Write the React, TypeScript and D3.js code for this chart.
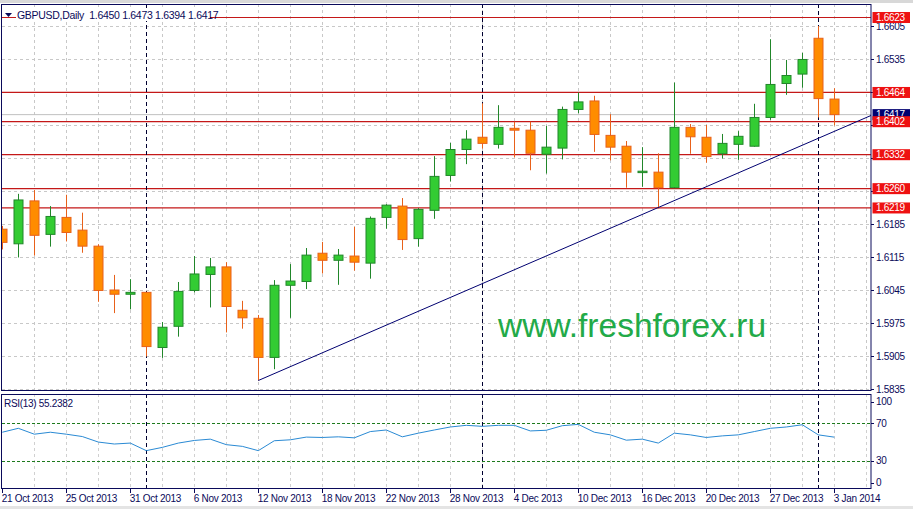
import React from 'react';
import * as d3 from 'd3';

// ---- data ----
const opens = [1.6174, 1.6143, 1.6234, 1.6163, 1.6199, 1.6172, 1.6138, 1.6045, 1.6036, 1.6040,
  1.5923, 1.5968, 1.6044, 1.6078, 1.6094, 1.6002, 1.5985, 1.5902, 1.6055, 1.6063,
  1.6123, 1.6108, 1.6117, 1.6102, 1.6199, 1.6223, 1.6154, 1.6214, 1.6288, 1.6343,
  1.6369, 1.6354, 1.6388, 1.6384, 1.6333, 1.6346, 1.6428, 1.6446, 1.6373, 1.6350,
  1.6294, 1.6295, 1.6262, 1.6390, 1.6369, 1.6334, 1.6354, 1.6350, 1.6411, 1.6483,
  1.6503, 1.6579, 1.6450];
const highs = [1.6181, 1.6249, 1.6257, 1.6223, 1.6247, 1.6209, 1.6142, 1.6077, 1.6068, 1.6041,
  1.5977, 1.6062, 1.6117, 1.6113, 1.6104, 1.6022, 1.5992, 1.6066, 1.6100, 1.6134,
  1.6147, 1.6132, 1.6179, 1.6201, 1.6227, 1.6240, 1.6219, 1.6329, 1.6357, 1.6384,
  1.6441, 1.6437, 1.6402, 1.6402, 1.6393, 1.6434, 1.6464, 1.6457, 1.6418, 1.6361,
  1.6348, 1.6335, 1.6485, 1.6397, 1.6395, 1.6376, 1.6382, 1.6440, 1.6577, 1.6533,
  1.6548, 1.6605, 1.6473];
const lows = [1.6131, 1.6114, 1.6118, 1.6137, 1.6148, 1.6124, 1.6020, 1.5996, 1.6004, 1.5904,
  1.5901, 1.5946, 1.6040, 1.6008, 1.5955, 1.5963, 1.5853, 1.5877, 1.5986, 1.6047,
  1.6080, 1.6056, 1.6086, 1.6069, 1.6175, 1.6130, 1.6137, 1.6196, 1.6275, 1.6312,
  1.6345, 1.6345, 1.6326, 1.6299, 1.6292, 1.6322, 1.6420, 1.6338, 1.6320, 1.6262,
  1.6264, 1.6218, 1.6261, 1.6334, 1.6315, 1.6324, 1.6321, 1.6349, 1.6406, 1.6459,
  1.6474, 1.6411, 1.6394];
const closes = [1.6146, 1.6236, 1.6161, 1.6201, 1.6167, 1.6138, 1.6044, 1.6036, 1.6040, 1.5925,
  1.5966, 1.6042, 1.6079, 1.6094, 1.6010, 1.5986, 1.5902, 1.6055, 1.6064, 1.6119,
  1.6108, 1.6119, 1.6104, 1.6197, 1.6225, 1.6152, 1.6216, 1.6286, 1.6343, 1.6365,
  1.6356, 1.6390, 1.6384, 1.6335, 1.6348, 1.6428, 1.6444, 1.6375, 1.6348, 1.6295,
  1.6297, 1.6262, 1.6390, 1.6370, 1.6328, 1.6356, 1.6371, 1.6411, 1.6481, 1.6500,
  1.6534, 1.6451, 1.6417];
const rsiValues = [60.5, 64.7, 58.4, 60.5, 58.4, 55.9, 50.0, 47.9, 48.9, 40.8,
  44.3, 48.9, 51.7, 53.1, 47.2, 45.4, 40.8, 51.4, 52.4, 55.3,
  54.9, 55.6, 54.5, 61.2, 62.9, 55.6, 59.5, 62.9, 66.1, 67.9,
  66.8, 67.9, 67.9, 61.9, 62.6, 67.5, 68.9, 60.5, 57.7, 52.0,
  53.1, 48.9, 59.5, 57.7, 54.9, 56.6, 57.7, 61.2, 64.7, 66.1,
  68.5, 57.7, 55.2382];
const dateIndex = [0, 4, 8, 12, 16, 20, 24, 28, 32, 36, 40, 44, 48, 52];
const dateText = ['21 Oct 2013', '25 Oct 2013', '31 Oct 2013', '6 Nov 2013', '12 Nov 2013',
  '18 Nov 2013', '22 Nov 2013', '28 Nov 2013', '4 Dec 2013', '10 Dec 2013',
  '16 Dec 2013', '20 Dec 2013', '27 Dec 2013', '3 Jan 2014'];
const priceTicks = [1.5835, 1.5905, 1.5975, 1.6045, 1.6115, 1.6185, 1.6255, 1.6325, 1.6395, 1.6465, 1.6535, 1.6605];
const levelPrices = [1.6623, 1.6464, 1.6332, 1.6260, 1.6219, 1.6402];
const bidPrice = 1.6417;
const separatorIndex = [9, 30, 51];
const trendStart = { i: 16, p: 1.5853 };
const trendEnd = { i: 41, p: 1.6220 };
const rsiTicks = [100, 70, 30, 0];
const rsiLevels = [70, 30];
const header = 'GBPUSD,Daily  1.6450 1.6473 1.6394 1.6417';
const rsiTitle = 'RSI(13) 55.2382';
const watermark = 'www.freshforex.ru';

// ---- layout ----
const W = 913, H = 509;
const L = 2, R = 871;
const mainTop = 4, mainBot = 390;
const rsiTop = 394, rsiBot = 488;
const NAVY = '#0a0a5a';
const FONT = 'Liberation Sans, Arial, sans-serif';

export default function App() {
  const x = d3.scaleLinear().domain([0, 1]).range([2.3, 18.3]);
  const y = d3.scaleLinear().domain([1.5835, 1.6605]).range([389, 26]);
  const yR = d3.scaleLinear().domain([0, 100]).range([488.8, 395.3]);

  const gridX = d3.range(2, 55, 2).map((i) => x(i)).filter((v) => v < R);
  const rsiLine = d3.line<number>().x((_, i) => x(i)).y((d) => yR(d))(rsiValues) || '';

  const slope = (trendEnd.p - trendStart.p) / (trendEnd.i - trendStart.i);
  const endI = x.invert(R);
  const endP = trendStart.p + slope * (endI - trendStart.i);

  // tick labels hidden behind the level / bid labels are not drawn
  const covered = (t: number) =>
    [...levelPrices, bidPrice].some((p) => Math.abs(y(p) - y(t)) < 8);
  const visibleTicks = priceTicks.filter((t) => !covered(t));

  const bw = 9;
  const fmt = (v: number) => v.toFixed(4);

  return (
    <svg width={W} height={H} style={{ position: 'absolute', left: 0, top: 0, display: 'block' }}
      fontFamily={FONT}>
      <defs>
        <clipPath id="cmain"><rect x={L} y={mainTop} width={R - L} height={mainBot - mainTop} /></clipPath>
        <clipPath id="crsi"><rect x={L} y={rsiTop} width={R - L} height={rsiBot - rsiTop} /></clipPath>
      </defs>
      <rect x={0} y={0} width={W} height={H} fill="#ffffff" />
      <rect x={0} y={0} width={W} height={3} fill="#d8d8d8" />
      <rect x={0} y={506} width={W} height={3} fill="#e4e4e4" />

      {/* main panel */}
      <g clipPath="url(#cmain)">
        {priceTicks.map((t) => (
          <line key={'hg' + t} x1={L} x2={R} y1={Math.round(y(t)) + 0.5} y2={Math.round(y(t)) + 0.5}
            stroke="#c8c8c8" strokeDasharray="3,3" />
        ))}
        {gridX.map((gx) => (
          <line key={'vg' + gx} x1={Math.round(gx) + 0.5} x2={Math.round(gx) + 0.5} y1={mainTop} y2={mainBot}
            stroke="#c8c8c8" strokeDasharray="3,3" />
        ))}
        <line x1={L} x2={R} y1={y(bidPrice)} y2={y(bidPrice)} stroke="#c0c0c0" strokeWidth={1} />
        {levelPrices.map((p) => (
          <line key={'lv' + p} x1={L} x2={R} y1={y(p)} y2={y(p)} stroke="#c41818" strokeWidth={1.2} />
        ))}
        {separatorIndex.map((i) => (
          <line key={'sp' + i} x1={Math.round(x(i)) + 0.5} x2={Math.round(x(i)) + 0.5} y1={mainTop} y2={mainBot}
            stroke="#000030" strokeDasharray="4,3" />
        ))}
        {opens.map((o, i) => {
          const c = closes[i];
          const up = c >= o;
          const fill = up ? '#33cc33' : '#ff8c00';
          const stroke = up ? '#21862a' : '#e8611a';
          const cx = Math.round(x(i)) + 0.5;
          const top = y(Math.max(o, c));
          const bot = y(Math.min(o, c));
          return (
            <g key={'c' + i}>
              <line x1={cx} x2={cx} y1={y(highs[i])} y2={y(lows[i])} stroke={stroke} strokeWidth={1} />
              <rect x={cx - bw / 2} y={top} width={bw} height={Math.max(bot - top, 1)}
                fill={fill} stroke={stroke} strokeWidth={1} />
            </g>
          );
        })}
        <line x1={x(trendStart.i)} y1={y(trendStart.p)} x2={R} y2={y(endP)} stroke="#000070" strokeWidth={1} />
        <text x={498} y={337} fontSize={33.5} fill="#22aa48" fontFamily={FONT}>{watermark}</text>
      </g>
      {/* header */}
      <rect x={16} y={9} width={194} height={12} fill="#ffffff" />
      <path d="M5,13 L12,13 L8.5,17 Z" fill={NAVY} />
      <text x={17} y={19} fontSize={10.5} letterSpacing={-0.3} fill={NAVY}
        style={{ whiteSpace: 'pre' }}>{header}</text>
      <rect x={L - 0.5} y={mainTop + 0.5} width={R - L + 0.5} height={mainBot - mainTop} fill="none" stroke={NAVY} />

      {/* price axis */}
      {priceTicks.map((t) => (
        <line key={'ptm' + t} x1={R} x2={R + 3} y1={Math.round(y(t)) + 0.5} y2={Math.round(y(t)) + 0.5} stroke={NAVY} />
      ))}
      {visibleTicks.map((t) => (
        <text key={'pt' + t} x={876} y={y(t) + 3.5} fontSize={10} letterSpacing={-0.3} fill={NAVY}>{fmt(t)}</text>
      ))}
      <rect x={872.5} y={y(bidPrice) - 5.5} width={37.5} height={11} fill="#000070" />
      <text x={876} y={y(bidPrice) + 3.5} fontSize={10} letterSpacing={-0.3} fill="#ffffff">{fmt(bidPrice)}</text>
      {levelPrices.map((p) => (
        <g key={'lb' + p}>
          <rect x={872.5} y={y(p) - 5.5} width={37.5} height={11} fill="#ee1111" />
          <text x={876} y={y(p) + 3.5} fontSize={10} letterSpacing={-0.3} fill="#ffffff">{fmt(p)}</text>
        </g>
      ))}

      {/* RSI panel */}
      <g clipPath="url(#crsi)">
        {gridX.map((gx) => (
          <line key={'rvg' + gx} x1={Math.round(gx) + 0.5} x2={Math.round(gx) + 0.5} y1={rsiTop} y2={rsiBot}
            stroke="#d0d0d0" strokeDasharray="3,3" />
        ))}
        {rsiLevels.map((v) => (
          <line key={'rl' + v} x1={L} x2={R} y1={Math.round(yR(v)) + 0.5} y2={Math.round(yR(v)) + 0.5}
            stroke="#1d7a1d" strokeDasharray="3,2" />
        ))}
        {separatorIndex.map((i) => (
          <line key={'rsp' + i} x1={Math.round(x(i)) + 0.5} x2={Math.round(x(i)) + 0.5} y1={rsiTop} y2={rsiBot}
            stroke="#000030" strokeDasharray="4,3" />
        ))}
        <path d={rsiLine} fill="none" stroke="#2a8ad4" strokeWidth={1} />
      </g>
      <text x={4} y={406.5} fontSize={10} letterSpacing={-0.3} fill={NAVY}>{rsiTitle}</text>
      <rect x={L - 0.5} y={rsiTop + 0.5} width={R - L + 0.5} height={rsiBot - rsiTop} fill="none" stroke={NAVY} />
      {rsiTicks.map((v) => {
        const ty = v === 100 ? yR(v) + 6.5 : v === 0 ? yR(v) - 6 : yR(v);
        return (
          <g key={'rt' + v}>
            <line x1={R} x2={R + 3} y1={Math.round(ty) + 0.5} y2={Math.round(ty) + 0.5} stroke={NAVY} />
            <text x={876} y={ty + 3.5} fontSize={10} letterSpacing={-0.3} fill={NAVY}>{v}</text>
          </g>
        );
      })}

      {/* date axis */}
      {dateIndex.map((i, k) => (
        <g key={'d' + i}>
          <line x1={Math.round(x(i)) + 0.5} x2={Math.round(x(i)) + 0.5} y1={rsiBot} y2={rsiBot + 5} stroke={NAVY} />
          <text x={x(i) - 0.5} y={502} fontSize={10} letterSpacing={-0.3} fill={NAVY}>{dateText[k]}</text>
        </g>
      ))}
    </svg>
  );
}
